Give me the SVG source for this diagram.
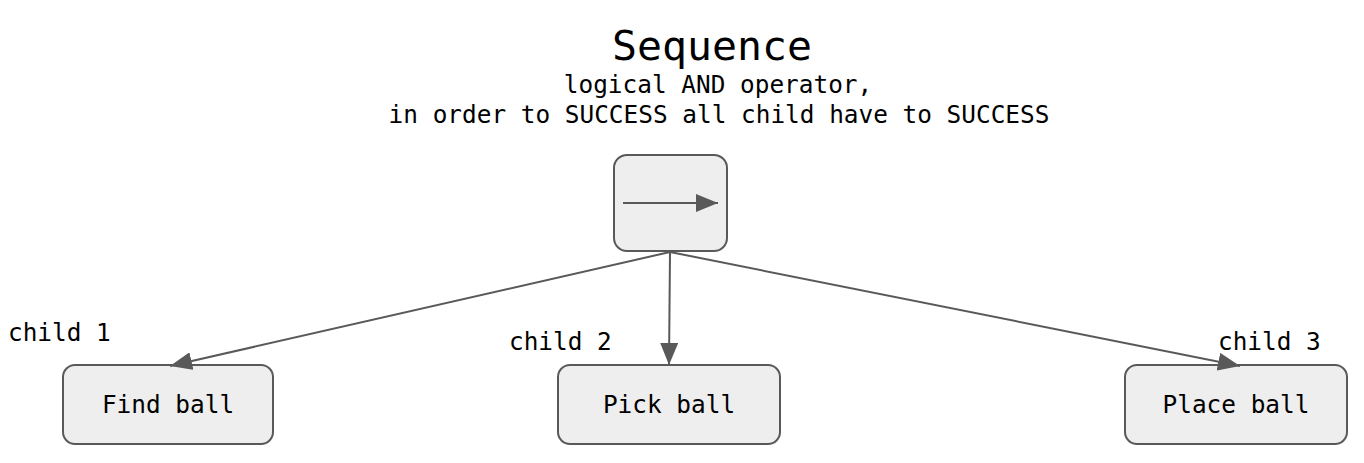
<svg xmlns="http://www.w3.org/2000/svg" width="1364" height="463" viewBox="0 0 1364 463">
<style>
.box{fill:#eeeeee;stroke:#595959;stroke-width:2}
.t{font-family:"DejaVu Sans Mono","Liberation Mono",monospace;fill:#000;font-size:24.4px}
.c{stroke:#595959;stroke-width:2;fill:none}
</style>
<defs>
<marker id="ah2" viewBox="0 0 22 18" refX="22" refY="9" markerWidth="22" markerHeight="18" orient="auto" markerUnits="userSpaceOnUse">
<path d="M0,0 L22,9 L0,18 Z" fill="#595959"/>
</marker>
</defs>
<g id="title">
<text class="t" x="712" y="60" style="font-size:41.5px" text-anchor="middle">Sequence</text>
<text class="t" x="718" y="93" text-anchor="middle">logical AND operator,</text>
<text class="t" x="719" y="123" text-anchor="middle">in order to SUCCESS all child have to SUCCESS</text>
</g>
<g id="sequence">
<rect class="box" x="614" y="155" width="113" height="96" rx="13"/>
<line x1="623" y1="203" x2="718" y2="203" class="c" marker-end="url(#ah2)"/>
</g>
<g id="find">
<rect class="box" x="63" y="365" width="210" height="79" rx="12"/>
<text class="t" x="168" y="413" text-anchor="middle">Find ball</text>
</g>
<g id="pick">
<rect class="box" x="558" y="365" width="222" height="79" rx="12"/>
<text class="t" x="669" y="413" text-anchor="middle">Pick ball</text>
</g>
<g id="place">
<rect class="box" x="1125" y="365" width="222" height="79" rx="12"/>
<text class="t" x="1236" y="413" text-anchor="middle">Place ball</text>
</g>
<g id="labels">
<text class="t" x="8" y="341">child 1</text>
<text class="t" x="509" y="350">child 2</text>
<text class="t" x="1218" y="350">child 3</text>
</g>
<g id="connectors">
<line class="c" x1="670" y1="252" x2="170" y2="366" marker-end="url(#ah2)"/>
<line class="c" x1="670" y1="252" x2="669" y2="365" marker-end="url(#ah2)"/>
<line class="c" x1="670" y1="252" x2="1240" y2="366" marker-end="url(#ah2)"/>
</g>
</svg>
